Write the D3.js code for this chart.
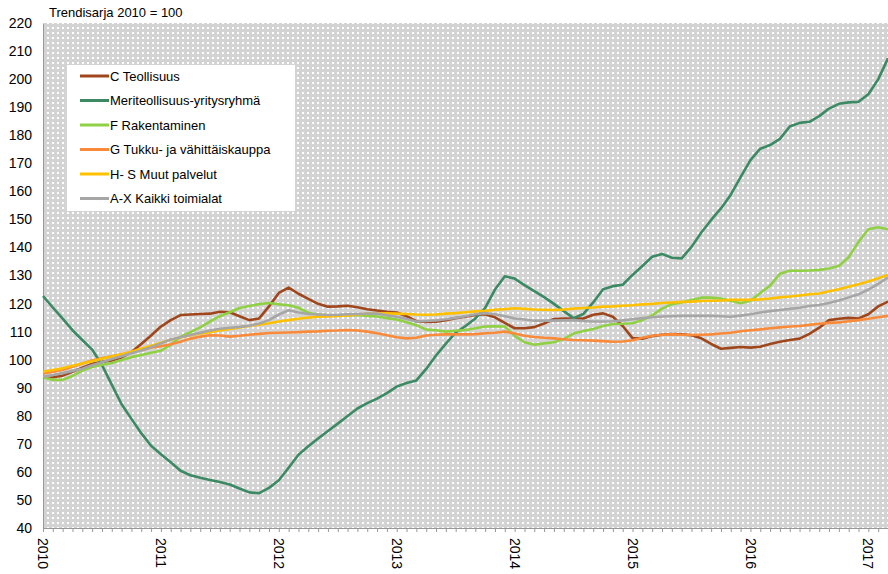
<!DOCTYPE html>
<html>
<head>
<meta charset="utf-8">
<script src="https://cdn.jsdelivr.net/npm/d3@7"></script>
<style>
  body { margin: 0; background: #fff; }
  text { font-family: "Liberation Sans", Arial, sans-serif; fill: #000; }
</style>
</head>
<body>
<script>
// monthly trend index 2010 = 100, Jan 2010 .. Mar 2017
const years = [2010, 2011, 2012, 2013, 2014, 2015, 2016, 2017];
const yTicks = [40, 50, 60, 70, 80, 90, 100, 110, 120, 130, 140, 150, 160, 170, 180, 190, 200, 210, 220];

const teollisuus = [93.7, 93.7, 94.3, 95.7, 97.1, 98.5, 99.2, 99.7, 100.8, 102.7, 105.6, 108.6,
  111.8, 114.1, 115.9, 116.1, 116.3, 116.4, 117.1, 116.9, 115.5, 114.1, 114.7, 119.0,
  123.8, 125.7, 123.5, 121.7, 119.9, 118.9, 119.0, 119.2, 118.7, 118.0, 117.5, 117.1,
  116.8, 115.5, 113.7, 113.4, 113.5, 114.1, 114.8, 115.3, 115.9, 116.2, 115.1, 113.1,
  111.2, 111.2, 111.6, 112.9, 114.5, 114.7, 114.7, 114.7, 116.0, 116.5, 115.3, 112.0,
  107.7, 107.5, 108.4, 108.9, 109.1, 109.0, 108.7, 107.6, 105.6, 103.9, 104.2, 104.5,
  104.3, 104.6, 105.6, 106.4, 107.0, 107.5, 109.2, 111.4, 114.1, 114.6, 114.9, 114.7,
  116.2, 119.0, 120.7];

const meriteollisuus = [122.7, 118.6, 114.6, 110.5, 107.0, 103.6, 98.1, 91.1, 84.1, 78.9, 73.8, 69.3,
  66.3, 63.4, 60.4, 58.8, 57.9, 57.1, 56.4, 55.5, 54.1, 52.7, 52.4, 54.3,
  57.0, 61.5, 66.1, 69.1, 71.9, 74.6, 77.2, 79.9, 82.6, 84.5, 86.1, 88.1,
  90.4, 91.7, 92.6, 96.7, 101.5, 105.7, 109.6, 112.0, 114.7, 118.5, 125.0, 129.7,
  128.9, 126.6, 124.4, 122.3, 119.9, 117.3, 114.8, 116.3, 120.4, 125.1, 126.2, 126.7,
  130.2, 133.4, 136.7, 137.7, 136.3, 136.1, 140.2, 145.3, 149.8, 153.9, 158.8, 165.1,
  171.1, 175.2, 176.5, 178.7, 183.1, 184.4, 184.8, 186.8, 189.5, 191.2, 191.7, 191.9,
  194.6, 199.9, 207.4];

const rakentaminen = [93.7, 92.8, 92.8, 94.2, 96.1, 97.4, 98.2, 98.8, 99.9, 100.9, 101.7, 102.5,
  103.2, 105.3, 108.2, 109.8, 111.5, 113.6, 115.5, 116.9, 118.4, 119.1, 119.8, 120.2,
  119.7, 119.4, 118.5, 116.7, 116.1, 115.8, 115.7, 115.8, 115.9, 115.6, 115.4, 114.8,
  114.3, 113.3, 112.3, 110.7, 110.5, 110.0, 110.3, 110.6, 111.2, 111.8, 111.9, 111.8,
  108.5, 106.2, 105.3, 105.8, 106.2, 107.4, 109.3, 110.2, 110.9, 112.0, 112.7, 112.8,
  113.0, 114.1, 115.8, 118.2, 119.8, 120.4, 121.3, 122.1, 122.1, 121.8, 121.0, 120.1,
  121.0, 123.8, 126.4, 130.6, 131.7, 131.7, 131.8, 132.0, 132.5, 133.4, 136.5, 142.0,
  146.5, 147.2, 146.5];

const kauppa = [95.1, 95.7, 96.4, 97.5, 98.6, 99.7, 100.5, 101.2, 101.9, 102.7, 103.4, 104.3,
  104.8, 105.5, 106.4, 107.5, 108.2, 108.7, 108.6, 108.2, 108.5, 108.9, 109.2, 109.5,
  109.6, 109.7, 109.8, 110.0, 110.1, 110.3, 110.4, 110.6, 110.4, 110.0, 109.4, 108.7,
  108.0, 107.6, 107.8, 108.6, 108.9, 109.0, 109.0, 109.0, 109.1, 109.4, 109.6, 110.0,
  109.3, 108.5, 108.1, 107.8, 107.6, 107.3, 107.0, 106.9, 106.8, 106.6, 106.4, 106.5,
  106.9, 107.8, 108.5, 108.9, 109.0, 108.9, 108.8, 108.9, 109.0, 109.3, 109.6, 110.1,
  110.5, 110.8, 111.2, 111.5, 111.8, 112.0, 112.4, 112.8, 113.1, 113.3, 113.7, 114.1,
  114.6, 115.1, 115.6];

const palvelut = [95.7, 96.3, 96.9, 97.8, 98.6, 99.4, 100.3, 101.1, 101.9, 102.8, 103.9, 105.0,
  106.0, 107.1, 107.9, 108.7, 109.3, 109.8, 110.4, 110.9, 111.5, 112.0, 112.5, 113.0,
  113.6, 114.1, 114.6, 115.0, 115.3, 115.4, 115.6, 115.8, 116.1, 116.4, 116.4, 116.5,
  116.4, 116.3, 116.1, 116.0, 116.1, 116.4, 116.6, 116.9, 117.2, 117.4, 117.8, 118.0,
  118.3, 118.1, 117.9, 117.8, 117.7, 117.9, 118.2, 118.4, 118.6, 118.9, 119.0, 119.2,
  119.4, 119.7, 119.9, 120.2, 120.4, 120.6, 120.7, 120.9, 121.0, 121.1, 121.3, 121.3,
  121.3, 121.5, 121.8, 122.2, 122.5, 122.9, 123.3, 123.6, 124.4, 125.1, 126.0, 126.9,
  127.9, 129.0, 130.2];

const kaikki = [93.9, 94.5, 95.2, 96.0, 96.8, 98.0, 99.1, 100.2, 101.2, 102.3, 103.3, 104.4,
  105.8, 107.2, 108.0, 108.8, 109.6, 110.4, 111.0, 111.4, 111.7, 112.1, 112.9, 114.1,
  116.1, 117.6, 116.8, 116.3, 116.1, 115.9, 116.0, 116.2, 116.3, 116.4, 116.4, 115.8,
  115.3, 114.5, 113.6, 113.8, 114.0, 114.4, 114.9, 115.5, 116.2, 116.6, 116.2, 115.5,
  114.7, 114.3, 113.9, 113.9, 113.9, 114.0, 114.1, 113.8, 113.6, 113.6, 113.7, 114.0,
  114.4, 114.8, 115.1, 115.4, 115.5, 115.6, 115.6, 115.6, 115.6, 115.5, 115.3, 115.7,
  116.2, 116.8, 117.3, 117.7, 118.1, 118.5, 119.1, 119.5, 120.2, 121.1, 122.2, 123.3,
  125.0, 127.0, 129.3];

const seriesNames = ["C  Teollisuus", "Meriteollisuus-yritysryhmä", "F  Rakentaminen",
  "G  Tukku- ja vähittäiskauppa", "H- S Muut palvelut", "A-X Kaikki toimialat"];
const seriesColors = ["#a0461c", "#3b8a64", "#8fd045", "#f98a3a", "#ffc000", "#a6a6a6"];
const seriesValues = [teollisuus, meriteollisuus, rakentaminen, kauppa, palvelut, kaikki];

const width = 888, height = 574;
const margin = { left: 43, right: 888, top: 23, bottom: 528 };

const svg = d3.select("body").append("svg")
  .attr("width", width)
  .attr("height", height);

// Excel-like dotted pattern fill for the plot area
const defs = svg.append("defs");
const pat = defs.append("pattern")
  .attr("id", "dots")
  .attr("patternUnits", "userSpaceOnUse")
  .attr("width", 5).attr("height", 5);
pat.append("rect").attr("width", 5).attr("height", 5).attr("fill", "#d3d3d3");
pat.append("rect").attr("x", 2).attr("y", 2).attr("width", 2).attr("height", 2).attr("fill", "#fff");

const nMonths = teollisuus.length;
const x = d3.scaleLinear().domain([0, nMonths - 1]).range([margin.left, margin.right]);
const y = d3.scaleLinear().domain([40, 220]).range([margin.bottom, margin.top]);

svg.append("rect")
  .attr("x", margin.left).attr("y", margin.top)
  .attr("width", margin.right - margin.left).attr("height", margin.bottom - margin.top)
  .attr("fill", "url(#dots)");

// title
svg.append("text")
  .attr("x", 49).attr("y", 17)
  .style("font-size", "13px")
  .text("Trendisarja 2010 =  100");

// Y axis
const yAxis = svg.append("g")
  .attr("transform", `translate(${margin.left},0)`)
  .call(d3.axisLeft(y).tickValues(yTicks).tickSize(0).tickPadding(11));
yAxis.select(".domain").attr("stroke", "#999");
yAxis.selectAll("text")
  .style("font-size", "14px")
  .style("font-family", "'Liberation Sans', Arial, sans-serif");

// X axis: month ticks, year labels rotated
const xAxis = svg.append("g")
  .attr("transform", `translate(0,${margin.bottom})`)
  .call(d3.axisBottom(x).tickValues(d3.range(0, nMonths)).tickSize(4).tickFormat(""));
xAxis.select(".domain").attr("stroke", "#999");
xAxis.selectAll(".tick line").attr("stroke", "#999");

svg.append("g").selectAll("text")
  .data(years)
  .join("text")
  .attr("transform", (d, i) => `translate(${x(i * 12)},538) rotate(90)`)
  .attr("dy", "0.35em")
  .style("font-size", "14px")
  .text(d => d);

// lines
const line = d3.line()
  .x((d, i) => x(i))
  .y(d => y(d));

svg.append("g").selectAll("path")
  .data(seriesValues)
  .join("path")
  .attr("d", d => line(d))
  .attr("fill", "none")
  .attr("stroke", (d, i) => seriesColors[i])
  .attr("stroke-width", 2.6)
  .attr("stroke-linejoin", "round");

// legend
const legend = svg.append("g");
legend.append("rect")
  .attr("x", 67).attr("y", 65)
  .attr("width", 228).attr("height", 146)
  .attr("fill", "#fff");

const rows = legend.selectAll("g.row")
  .data(seriesNames)
  .join("g")
  .attr("class", "row")
  .attr("transform", (d, i) => `translate(0,${76 + i * 24.5})`);
rows.append("line")
  .attr("x1", 80).attr("x2", 109)
  .attr("stroke", (d, i) => seriesColors[i])
  .attr("stroke-width", 3);
rows.append("text")
  .attr("x", 110).attr("dy", "0.35em")
  .style("font-size", "13px")
  .text(d => d);
</script>
</body>
</html>
